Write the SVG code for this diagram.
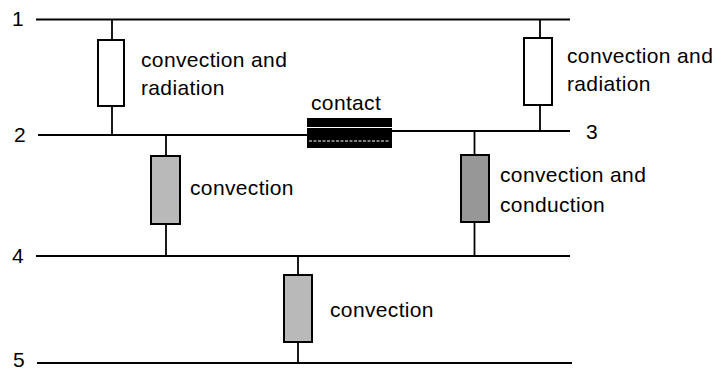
<svg xmlns="http://www.w3.org/2000/svg" width="715" height="370" viewBox="0 0 715 370">
  <style>
    .bus { stroke: #000; stroke-width: 2; fill: none; }
    .wire { stroke: #000; stroke-width: 1.8; fill: none; }
    .res { stroke: #000; stroke-width: 2; }
    .plain { fill: #fff; }
    .light { fill: #b9b9b9; }
    .dark { fill: #979797; }
    text { font-family: "Liberation Sans", Arial, sans-serif; font-size: 21px; letter-spacing: 0.35px; fill: #000; }
  </style>
  <rect width="715" height="370" fill="#fff"/>

  <!-- temperature levels (bus lines) -->
  <g id="connectors">
    <line class="bus" x1="36" y1="19.5" x2="570" y2="19.5"/>
    <line class="bus" x1="38" y1="135" x2="308" y2="135"/>
    <line class="bus" x1="392" y1="131" x2="570" y2="131"/>
    <line class="bus" x1="36" y1="256" x2="570" y2="256"/>
    <line class="bus" x1="37" y1="363" x2="572" y2="363"/>
    <!-- resistor leads -->
    <line class="wire" x1="112" y1="19.5" x2="112" y2="135"/>
    <line class="wire" x1="540" y1="19.5" x2="540" y2="131"/>
    <line class="wire" x1="166" y1="135" x2="166" y2="256"/>
    <line class="wire" x1="474.5" y1="131" x2="474.5" y2="256"/>
    <line class="wire" x1="298" y1="256" x2="298" y2="363"/>
  </g>

  <g id="level-labels">
    <text x="12" y="26">1</text>
    <text x="14" y="142">2</text>
    <text x="586" y="139">3</text>
    <text x="12" y="263">4</text>
    <text x="13" y="367">5</text>
  </g>

  <g id="r-1-2">
    <rect class="res plain" x="98" y="40" width="26" height="66"/>
    <text x="141" y="67">convection and</text>
    <text x="141" y="95">radiation</text>
  </g>

  <g id="r-1-3">
    <rect class="res plain" x="524" y="38" width="28" height="67"/>
    <text x="567" y="63">convection and</text>
    <text x="567" y="91">radiation</text>
  </g>

  <g id="r-2-3">
    <rect x="307" y="118" width="85" height="30" fill="#000"/>
    <line x1="307" y1="127.5" x2="392" y2="127.5" stroke="#fff" stroke-width="1"/>
    <line x1="309" y1="141" x2="390" y2="141" stroke="#fff" stroke-width="1" stroke-dasharray="3 1.5"/>
    <text x="311" y="110">contact</text>
  </g>

  <g id="r-2-4">
    <rect class="res light" x="151" y="156" width="29" height="68"/>
    <text x="190" y="195">convection</text>
  </g>

  <g id="r-3-4">
    <rect class="res dark" x="461" y="155" width="28" height="67"/>
    <text x="500" y="182">convection and</text>
    <text x="500" y="212">conduction</text>
  </g>

  <g id="r-4-5">
    <rect class="res light" x="284" y="275" width="28" height="67"/>
    <text x="330" y="317">convection</text>
  </g>
</svg>
